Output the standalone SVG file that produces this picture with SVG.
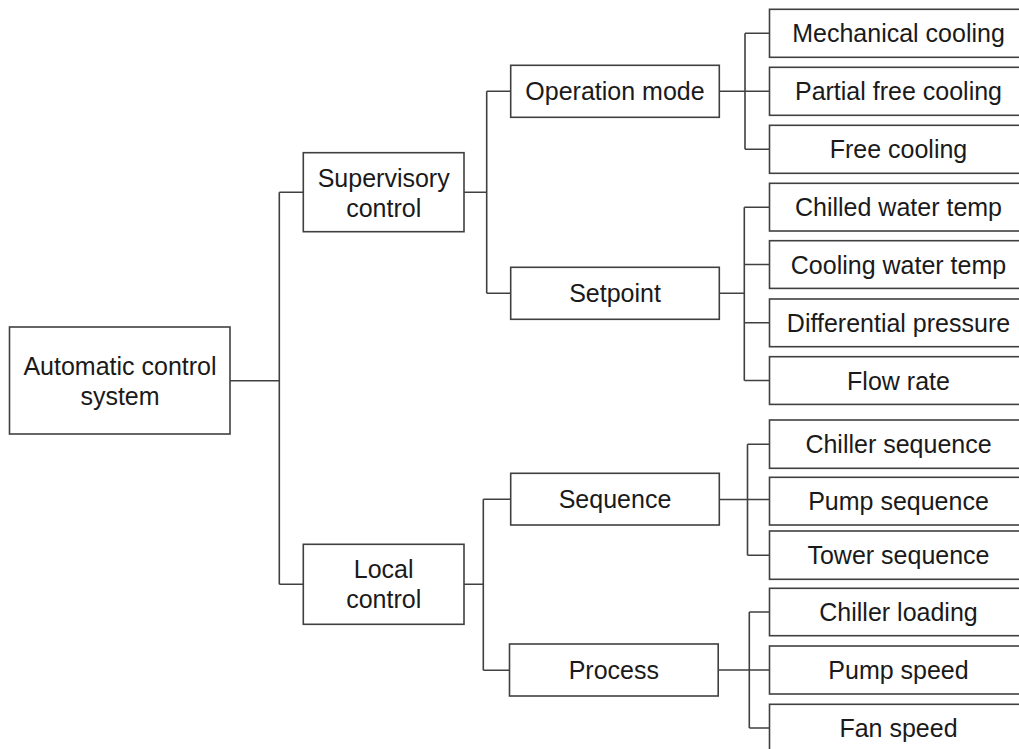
<svg xmlns="http://www.w3.org/2000/svg" width="1019" height="749" viewBox="0 0 1019 749">
<style>
  .box { fill: #ffffff; stroke: #404040; stroke-width: 1.6; }
  .lbl { font-family: "Liberation Sans", Arial, sans-serif; font-size: 25px; fill: #1a1a1a; text-anchor: middle; }
  .wire { fill: none; stroke: #404040; stroke-width: 1.6; }
</style>
<rect x="0" y="0" width="1019" height="749" fill="#ffffff"/>
<g id="connectors">
  <path class="wire" d="M230 380.7 H279.3 M279.3 192.3 V584.3 M279.3 192.3 H303.3 M279.3 584.3 H303.3"/>
  <path class="wire" d="M464 192.3 H486.7 M486.7 91.3 V293.3 M486.7 91.3 H510.7 M486.7 293.3 H510.7"/>
  <path class="wire" d="M464 584.3 H483.3 M483.3 499.3 V670.3 M483.3 499.3 H510.7 M483.3 670.3 H509.5"/>
  <path class="wire" d="M719.3 91.3 H769.5 M745 33.3 V149.3 M745 33.3 H769.5 M745 149.3 H769.5"/>
  <path class="wire" d="M719.3 293.3 H744.3 M744.3 207.2 V380.5 M744.3 207.2 H769.5 M744.3 264.5 H769.5 M744.3 322.8 H769.5 M744.3 380.5 H769.5"/>
  <path class="wire" d="M719.3 499.5 H769.5 M747.5 444.2 V555.2 M747.5 444.2 H769.5 M747.5 555.2 H769.5"/>
  <path class="wire" d="M718.2 670 H769.5 M749.3 612 V728 M749.3 612 H769.5 M749.3 728 H769.5"/>
</g>
<g id="root">
  <rect class="box" x="9.5" y="327" width="220.5" height="107"/>
  <text class="lbl" x="120" y="375">Automatic control</text>
  <text class="lbl" x="120" y="405">system</text>
</g>
<g id="supervisory">
  <rect class="box" x="303.3" y="152.7" width="160.7" height="79"/>
  <text class="lbl" x="383.7" y="186.7">Supervisory</text>
  <text class="lbl" x="383.7" y="216.7">control</text>
</g>
<g id="local">
  <rect class="box" x="303.3" y="544.3" width="160.7" height="80"/>
  <text class="lbl" x="383.7" y="578.3">Local</text>
  <text class="lbl" x="383.7" y="608.3">control</text>
</g>
<g id="operation-mode">
  <rect class="box" x="510.7" y="65.3" width="208.6" height="52"/>
  <text class="lbl" x="615" y="100.3">Operation mode</text>
</g>
<g id="setpoint">
  <rect class="box" x="510.7" y="267.3" width="208.6" height="52"/>
  <text class="lbl" x="615" y="302.3">Setpoint</text>
</g>
<g id="sequence">
  <rect class="box" x="510.7" y="473.3" width="208.6" height="51.7"/>
  <text class="lbl" x="615" y="508.2">Sequence</text>
</g>
<g id="process">
  <rect class="box" x="509.5" y="644" width="208.7" height="52"/>
  <text class="lbl" x="613.8" y="679">Process</text>
</g>
<g id="mechanical-cooling">
  <rect class="box" x="769.5" y="9.3" width="258" height="48"/>
  <text class="lbl" x="898.5" y="42.3">Mechanical cooling</text>
</g>
<g id="partial-free-cooling">
  <rect class="box" x="769.5" y="67.3" width="258" height="48"/>
  <text class="lbl" x="898.5" y="100.3">Partial free cooling</text>
</g>
<g id="free-cooling">
  <rect class="box" x="769.5" y="125.3" width="258" height="48"/>
  <text class="lbl" x="898.5" y="158.3">Free cooling</text>
</g>
<g id="chilled-water-temp">
  <rect class="box" x="769.5" y="183.3" width="258" height="47.7"/>
  <text class="lbl" x="898.5" y="216.2">Chilled water temp</text>
</g>
<g id="cooling-water-temp">
  <rect class="box" x="769.5" y="240.7" width="258" height="47.7"/>
  <text class="lbl" x="898.5" y="273.5">Cooling water temp</text>
</g>
<g id="differential-pressure">
  <rect class="box" x="769.5" y="299" width="258" height="47.7"/>
  <text class="lbl" x="898.5" y="331.8">Differential pressure</text>
</g>
<g id="flow-rate">
  <rect class="box" x="769.5" y="356.7" width="258" height="47.7"/>
  <text class="lbl" x="898.5" y="389.5">Flow rate</text>
</g>
<g id="chiller-sequence">
  <rect class="box" x="769.5" y="420" width="258" height="48.3"/>
  <text class="lbl" x="898.5" y="453.2">Chiller sequence</text>
</g>
<g id="pump-sequence">
  <rect class="box" x="769.5" y="477.3" width="258" height="47.7"/>
  <text class="lbl" x="898.5" y="510.2">Pump sequence</text>
</g>
<g id="tower-sequence">
  <rect class="box" x="769.5" y="531" width="258" height="48.3"/>
  <text class="lbl" x="898.5" y="564.2">Tower sequence</text>
</g>
<g id="chiller-loading">
  <rect class="box" x="769.5" y="588.3" width="258" height="47.4"/>
  <text class="lbl" x="898.5" y="621">Chiller loading</text>
</g>
<g id="pump-speed">
  <rect class="box" x="769.5" y="646" width="258" height="48"/>
  <text class="lbl" x="898.5" y="679">Pump speed</text>
</g>
<g id="fan-speed">
  <rect class="box" x="769.5" y="704.3" width="258" height="60"/>
  <text class="lbl" x="898.5" y="737">Fan speed</text>
</g>
</svg>
